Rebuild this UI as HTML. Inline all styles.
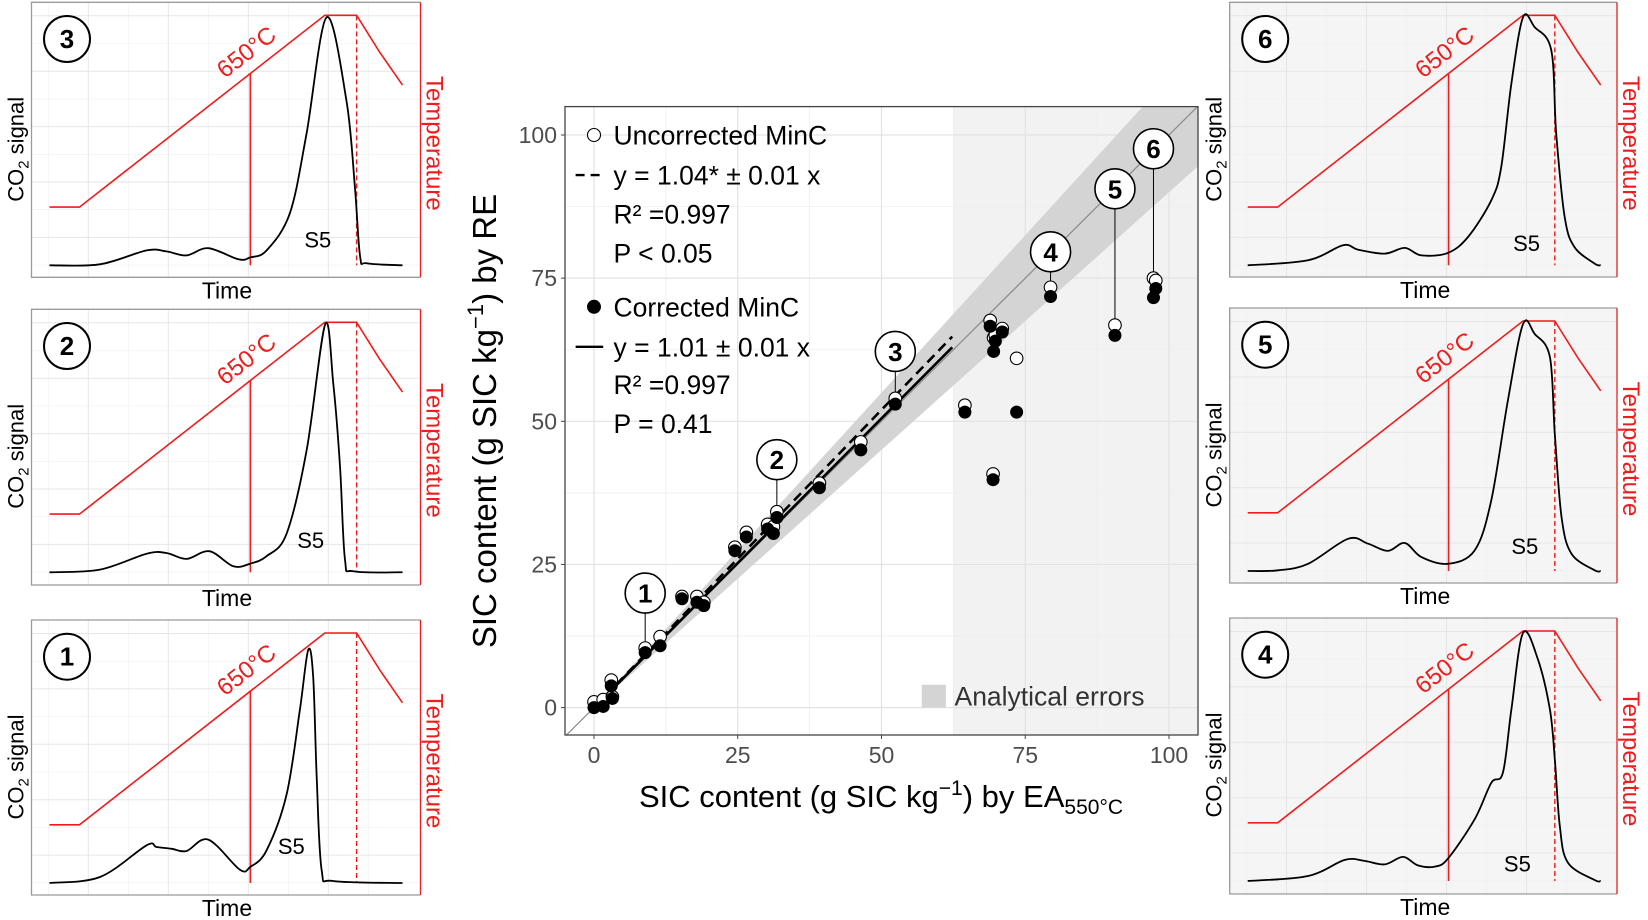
<!DOCTYPE html>
<html><head><meta charset="utf-8"><style>
html,body{margin:0;padding:0;background:#fff;}
svg{display:block;font-family:"Liberation Sans",Arial,sans-serif;}
</style></head><body>
<svg id="fig" width="1648" height="920" viewBox="0 0 1648 920" xmlns="http://www.w3.org/2000/svg"></svg>
<script>
// ---------- main scatter data ----------
const ptEA   = [0,1.6,3,3.2,8.9,11.5,15.3,17.9,19.1,24.5,26.5,30.2,31.2,31.8,39.2,46.4,52.4,64.5,68.9,69.5,69.8,71,73.5,69.4,79.4,90.6,97.3,97.7];
const ptUnc  = [1.0,1.4,4.8,1.9,10.4,12.4,19.4,19.4,18.4,28,30.6,32,31.6,34.2,39.2,46.4,54.0,52.8,67.6,64.6,65,66.2,61,40.8,73.4,66.8,75,74.6];
const ptCor  = [0,0.2,3.8,1.6,9.6,10.8,19.0,18.4,17.8,27.4,29.8,31.2,30.4,33.2,38.4,45.0,53.0,51.6,66.6,62.2,64.0,65.6,51.6,39.8,71.8,65.0,71.6,73.2];
const calloutIds = ["1","2","3","4","5","6"];
const calloutX   = [8.9,31.8,52.4,79.4,90.6,97.3];
const calloutY   = [20,43.3,62.2,79.6,90.6,97.6];
const calloutEnd = [10.4,34.2,54.0,73.4,66.8,75];
const xTicks = [0,25,50,75,100];
const yTicks = [0,25,50,75,100];
const slopeUnc = 1.04, slopeCor = 1.01, fitMaxX = 62.3;
const errShadeStart = 62.5, bandFrac = 0.1;

// ---------- TGA panel data ----------
const panelIds = ["3","2","1","6","5","4"];
const tempTime = [0,8.5,78,87,93.6,100];
const tempVal  = [75,75,900,900,740,600];
const vlineTime = 56.9, vlineTemp = 650, dashTime = 87;
const sigTime3 = [0,14.3,27.5,33.1,38.8,45,53.5,56.9,61.5,68.1,72.8,78.5,84.1,86.5,88,89.9,100];
const sigVal3  = [0,0.4,6,5.6,4,6.9,2.4,3.2,6,21,53,100,66.5,32,3.6,0.8,0];
const sigTime2 = [0,14.3,27.5,33.1,38.8,45.3,52.1,56.9,61.5,67.2,72.9,78.1,80.4,82.3,83.7,86.1,100];
const sigVal2  = [0,1.1,7.5,7.8,5.4,8.5,2.4,3.5,6.5,15.7,49.6,100,76,42.7,5.1,0.4,0];
const sigTime1 = [0,14.3,27.5,30.3,34.6,38.8,45,53.9,56.9,61.5,67.2,70.9,73.3,74.7,75.7,77.1,80.4,100];
const sigVal1  = [0,2.4,15.2,14.5,13.8,12.9,17.5,5.4,6.5,13.2,35.9,69.6,94,83,42.7,5.1,0.8,0];
const sigTime6 = [0,17.1,27,31.3,38.8,44.5,49.2,56.7,62.4,69,71.8,74.7,78,81.3,86,87.4,89.8,92.6,98.3,100];
const sigVal6  = [0,2,8.1,6.3,4.7,7,4,5,11.4,26.2,39.5,73.3,100,96,86.7,53.1,19.4,7.3,0.7,0];
const sigTime5 = [0,8.7,17.1,28.4,34.1,39.7,44.5,49.2,56.7,64.3,69,73.7,78,81.3,85.6,87,88.9,91.7,98.3,100];
const sigVal5  = [0,0.3,2.9,13,11,8.1,11.3,5.6,2.9,8.3,28.5,68.8,99.5,95.6,86.3,55.2,21.8,7,0.3,0];
const sigTime4 = [0,17.1,27.5,33.1,38.8,44,48.2,53,56.7,64.3,69,72.3,74.7,78,82.2,85.6,87,88.4,90.7,98.3,100];
const sigVal4  = [0,2,8.5,8.1,6.7,9.7,6.3,5.8,9,24.9,39.6,43.7,69.2,100,89.4,69.2,49.1,22.2,7.4,0.4,0];
const s5Time = [76,74,68.5,79,78.5,76.4];
const s5Val  = [10.5,13,15,9,10,7];

const NS = "http://www.w3.org/2000/svg";
const svg = document.getElementById("fig");
function mk(tag, attrs, parent){
  const e = document.createElementNS(NS, tag);
  for (const k in attrs) e.setAttribute(k, attrs[k]);
  (parent||svg).appendChild(e);
  return e;
}
function smoothPath(pts){
  let d = "M"+pts[0][0].toFixed(1)+","+pts[0][1].toFixed(1);
  for (let i=0;i<pts.length-1;i++){
    const p0=pts[Math.max(0,i-1)], p1=pts[i], p2=pts[i+1], p3=pts[Math.min(pts.length-1,i+2)];
    const c1=[p1[0]+(p2[0]-p0[0])/6, p1[1]+(p2[1]-p0[1])/6];
    const c2=[p2[0]-(p3[0]-p1[0])/6, p2[1]-(p3[1]-p1[1])/6];
    d += " C"+c1[0].toFixed(1)+","+c1[1].toFixed(1)+" "+c2[0].toFixed(1)+","+c2[1].toFixed(1)+" "+p2[0].toFixed(1)+","+p2[1].toFixed(1);
  }
  return d;
}

// ---------- panels ----------
const panelBox = [[31.5,2.3,389,275],[31.5,309.3,389,275.7],[31.5,620,389,275],[1229.7,2.3,387.3,274.7],[1229.7,308,387.3,275],[1229.7,618,387.3,276]];
const panelBg = ["#ffffff","#ffffff","#ffffff","#f5f5f5","#f5f5f5","#f5f5f5"];
const sigT = [sigTime3,sigTime2,sigTime1,sigTime6,sigTime5,sigTime4];
const sigV = [sigVal3,sigVal2,sigVal1,sigVal6,sigVal5,sigVal4];
const RED = "#ee1c1c";
panelIds.forEach((pid, i) => {
  const [px,py,pw,ph] = panelBox[i];
  const g = mk("g", {transform:"translate("+px+","+py+")"});
  
  
  const tx = t => 18 + t*3.53;
  const sy = s => 263 - s*2.48;
  const ty = T => 222.2 - T*0.2324;
  mk("rect",{x:0,y:0,width:pw,height:ph,fill:panelBg[i]},g);
  for (let k=0;k<9;k++){
    const gx = 16.8 + k*40;
    mk("line",{x1:gx,y1:0,x2:gx,y2:ph,stroke:k%2?"#e6e6e6":"#efefef","stroke-width":k%2?1:0.6},g);
  }
  for (let k=0;k<10;k++){
    const gy = 13.5 + k*27.7;
    if (gy<ph) mk("line",{x1:0,y1:gy,x2:pw,y2:gy,stroke:k%2?"#efefef":"#e6e6e6","stroke-width":k%2?0.6:1},g);
  }
  mk("path",{d:"M"+pw+",0 L0,0 L0,"+ph+" L"+pw+","+ph,fill:"none",stroke:"#9a9a9a","stroke-width":1.3},g);
  mk("line",{x1:pw,y1:0,x2:pw,y2:ph,stroke:RED,"stroke-width":1.3},g);
  const tp = tempTime.map((t,j)=>tx(t).toFixed(1)+","+ty(tempVal[j]).toFixed(1)).join(" ");
  const tl = mk("polyline",{points:tp,fill:"none",stroke:RED,"stroke-width":1.6},g);
  
  
  mk("line",{x1:tx(vlineTime),y1:ty(vlineTemp),x2:tx(vlineTime),y2:sy(0),stroke:RED,"stroke-width":1.6},g);
  mk("line",{x1:tx(dashTime),y1:ty(900),x2:tx(dashTime),y2:sy(0),stroke:RED,"stroke-width":1.4,"stroke-dasharray":"5,3"},g);
  const pts = sigT[i].map((t,j)=>[tx(t), sy(sigV[i][j])]);
  const sl = mk("path",{d:smoothPath(pts),fill:"none",stroke:"#000","stroke-width":1.8},g);
  
  
  const lbl = mk("text",{x:0,y:0,"font-size":24,fill:RED,"text-anchor":"middle",transform:"translate("+(tx(vlineTime)+1)+","+(ty(vlineTemp)-15)+") rotate(-37.9)"},g);
  lbl.textContent = "650°C";
  
  
  const s5 = mk("text",{x:tx(s5Time[i]),y:sy(s5Val[i])+8,"font-size":22,"text-anchor":"middle",fill:"#000"},g);
  s5.textContent = "S5";
  
  
  mk("circle",{cx:35.5,cy:36.7,r:23,fill:"#fff",stroke:"#000","stroke-width":2},g);
  const nt = mk("text",{x:35.5,y:45.5,"font-size":26,"font-weight":"bold","text-anchor":"middle"},g);
  nt.textContent = pid;
  
  
  const co = mk("text",{x:0,y:0,"font-size":22,"text-anchor":"middle",transform:"translate("+(-8)+",147) rotate(-90)"},g);
  
  
  co.innerHTML = 'CO<tspan font-size="15" dy="5">2</tspan><tspan dy="-5"> signal</tspan>';
  const te = mk("text",{x:0,y:0,"font-size":24,fill:RED,"text-anchor":"middle",transform:"translate("+(pw+6)+",141) rotate(90)"},g);
  te.textContent = "Temperature";
  
  
  const ti = mk("text",{x:195.5,y:ph+21,"font-size":23,"text-anchor":"middle"},g);
  ti.textContent = "Time";
  
  
});

// ---------- main plot ----------
const L=565, R=1198, T=106.6, B=735;
const xs = v => 594 + v*5.75;
const ys = v => 707.6 - v*5.726;
const defs = mk("defs",{});
const cp = mk("clipPath",{id:"pc"},defs);
mk("rect",{x:L,y:T,width:R-L,height:B-T},cp);
const mg = mk("g",{"clip-path":"url(#pc)"});


mk("rect",{x:L,y:T,width:R-L,height:B-T,fill:"#fff"},mg);
const shade = mk("rect",{x:xs(errShadeStart),y:T,width:R-xs(errShadeStart),height:B-T,fill:"#f2f2f2"},mg);


[12.5,37.5,62.5,87.5].forEach(v=>{
  mk("line",{x1:xs(v),y1:T,x2:xs(v),y2:B,stroke:"#ededed","stroke-width":0.7},mg);
  mk("line",{x1:L,y1:ys(v),x2:R,y2:ys(v),stroke:"#ededed","stroke-width":0.7},mg);
});
xTicks.forEach(v=>mk("line",{x1:xs(v),y1:T,x2:xs(v),y2:B,stroke:"#e3e3e3","stroke-width":1.2},mg));
yTicks.forEach(v=>mk("line",{x1:L,y1:ys(v),x2:R,y2:ys(v),stroke:"#e3e3e3","stroke-width":1.2},mg));
const band = mk("polygon",{points:[[0,0],[110,110*(1+bandFrac)],[110,110*(1-bandFrac)]].map(p=>xs(p[0])+","+ys(p[1])).join(" "),fill:"#d4d4d4"},mg);


const one = mk("line",{x1:xs(-6),y1:ys(-6),x2:xs(110),y2:ys(110),stroke:"#8a8a8a","stroke-width":1.2},mg);


const fu = mk("line",{x1:xs(0),y1:ys(0),x2:xs(fitMaxX),y2:ys(fitMaxX*slopeUnc),stroke:"#000","stroke-width":2.6,"stroke-dasharray":"10,6"},mg);


const fc = mk("line",{x1:xs(0),y1:ys(0),x2:xs(fitMaxX),y2:ys(fitMaxX*slopeCor),stroke:"#000","stroke-width":2.6},mg);


calloutIds.forEach((id,i)=>{
  mk("line",{x1:xs(calloutX[i]),y1:ys(calloutY[i])+20,x2:xs(calloutX[i]),y2:ys(calloutEnd[i]),stroke:"#000","stroke-width":1},mg);
});
ptEA.forEach((x,i)=>{
  const c = mk("circle",{cx:xs(x),cy:ys(ptUnc[i]),r:6.3,fill:"#fff",stroke:"#000","stroke-width":1.1},mg);
  
  
});
ptEA.forEach((x,i)=>{
  const c = mk("circle",{cx:xs(x),cy:ys(ptCor[i]),r:6.5,fill:"#000"},mg);
  
  
});
calloutIds.forEach((id,i)=>{
  mk("circle",{cx:xs(calloutX[i]),cy:ys(calloutY[i]),r:20,fill:"#fff",stroke:"#000","stroke-width":1.6},mg);
  const t = mk("text",{x:xs(calloutX[i]),y:ys(calloutY[i])+9.5,"font-size":26,"font-weight":"bold","text-anchor":"middle"},mg);
  t.textContent = id;
  
  
});
const legLines = [["Uncorrected MinC",100,"open"],["y = 1.04* ± 0.01 x",93,"dash"],["R² =0.997",86.2,""],["P < 0.05",79.4,""],
                  ["Corrected MinC",70,"fill"],["y = 1.01 ± 0.01 x",63,"solid"],["R² =0.997",56.4,""],["P = 0.41",49.6,""]];
legLines.forEach(l=>{
  const cy = ys(l[1]);
  if (l[2]==="open") mk("circle",{cx:xs(0),cy:cy,r:6.5,fill:"#fff",stroke:"#000","stroke-width":1.1},mg);
  if (l[2]==="fill") mk("circle",{cx:xs(0),cy:cy,r:7,fill:"#000"},mg);
  if (l[2]==="dash") mk("line",{x1:xs(-3.2),y1:cy,x2:xs(1.6),y2:cy,stroke:"#000","stroke-width":2.4,"stroke-dasharray":"9,6"},mg);
  if (l[2]==="solid") mk("line",{x1:xs(-3.2),y1:cy,x2:xs(1.6),y2:cy,stroke:"#000","stroke-width":2.4},mg);
  const t = mk("text",{x:xs(3.4),y:cy+9.5,"font-size":26.5,fill:"#000"},mg);
  t.textContent = l[0];
  
  
});
mk("rect",{x:xs(57),y:ys(4),width:xs(61.2)-xs(57),height:ys(0)-ys(4),fill:"#d4d4d4"},mg);
const ae = mk("text",{x:xs(62.7),y:ys(2)+9.5,"font-size":26.5,fill:"#333"},mg);
ae.textContent = "Analytical errors";


const border = mk("rect",{x:L,y:T,width:R-L,height:B-T,fill:"none",stroke:"#444","stroke-width":1.3});


xTicks.forEach(v=>{
  mk("line",{x1:xs(v),y1:B,x2:xs(v),y2:B+4,stroke:"#444","stroke-width":1});
  const t = mk("text",{x:xs(v),y:B+28,"font-size":23,fill:"#4d4d4d","text-anchor":"middle"});
  t.textContent = v;
  
  
});
yTicks.forEach(v=>{
  mk("line",{x1:L-4,y1:ys(v),x2:L,y2:ys(v),stroke:"#444","stroke-width":1});
  const t = mk("text",{x:L-8,y:ys(v)+8,"font-size":23,fill:"#4d4d4d","text-anchor":"end"});
  t.textContent = v;
  
  
});
const yt = mk("text",{x:0,y:0,"font-size":33,"text-anchor":"middle",transform:"translate(496,421) rotate(-90)"});


yt.innerHTML = 'SIC content (g SIC kg<tspan font-size="22" dy="-13">−1</tspan><tspan dy="13">) by RE</tspan>';
const xt = mk("text",{x:881,y:807,"font-size":31,"text-anchor":"middle"});


xt.innerHTML = 'SIC content (g SIC kg<tspan font-size="21" dy="-12">−1</tspan><tspan dy="12">) by EA</tspan><tspan font-size="21" dy="7">550°C</tspan>';
</script>
</body></html>
